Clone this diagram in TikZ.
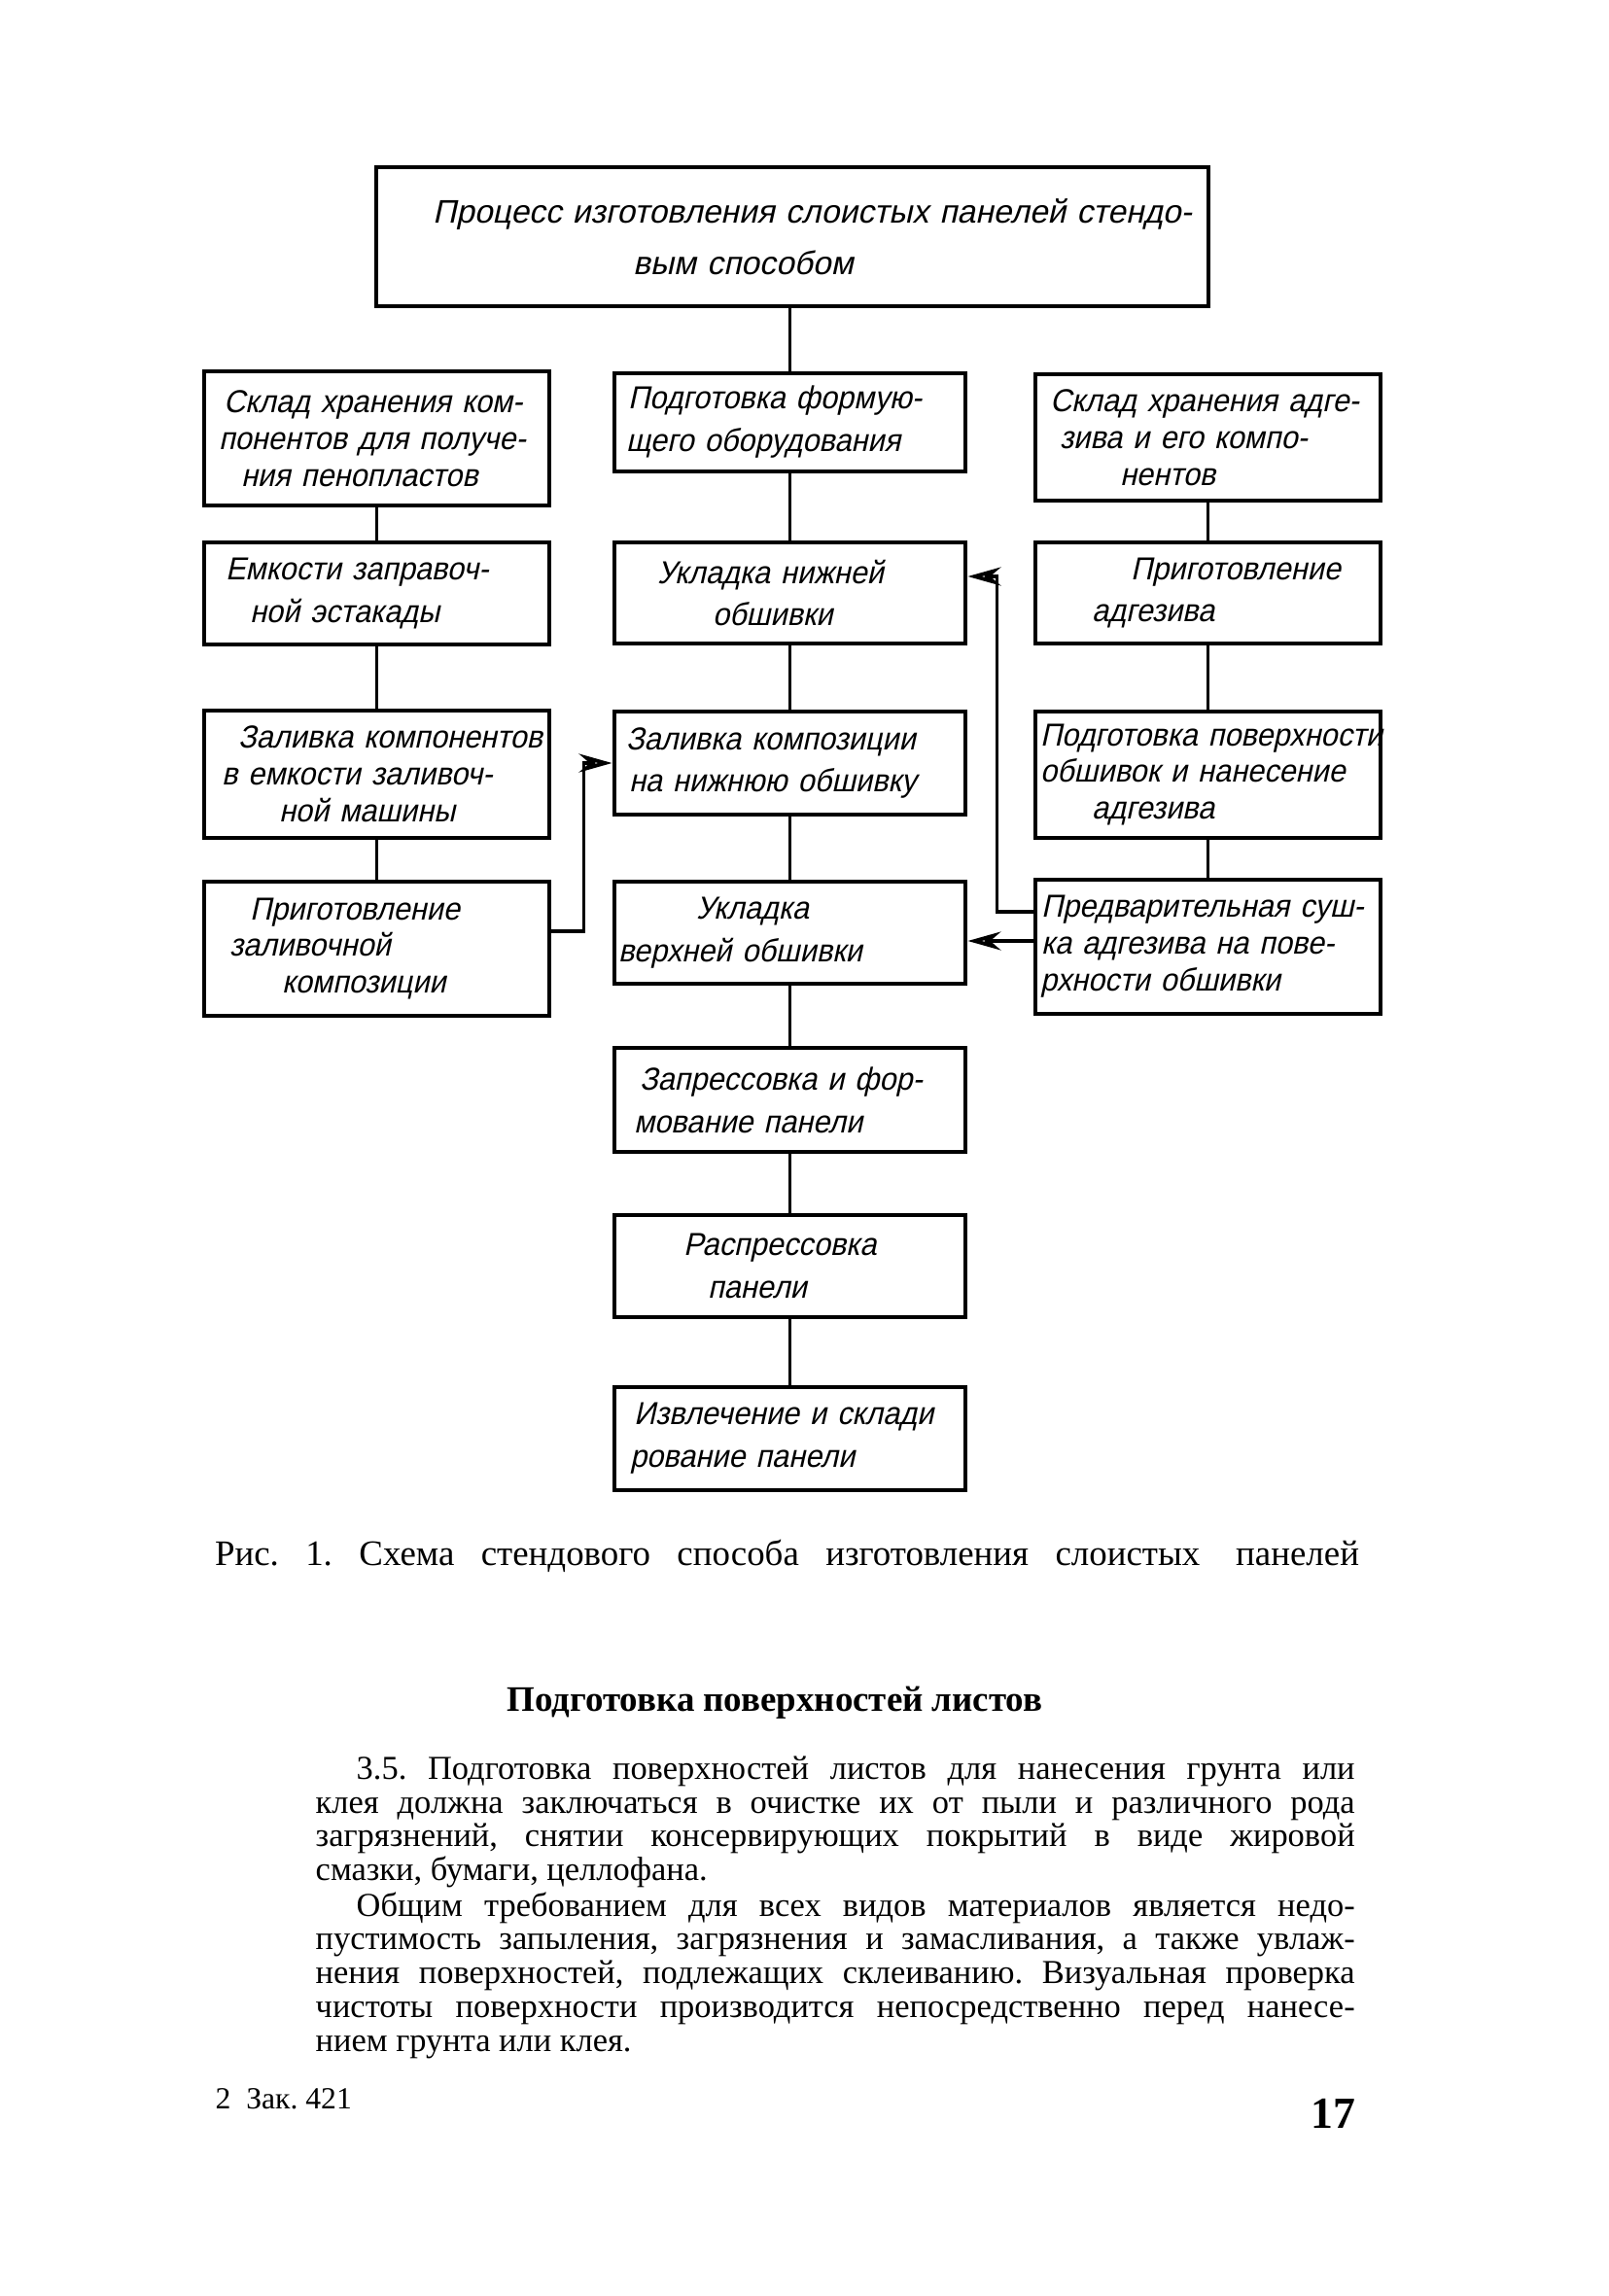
\documentclass[tikz,border=0pt]{standalone}
\usepackage{fontspec}
\setmainfont{Liberation Serif}
\newfontfamily\handfont[FakeSlant=0.22, FakeStretch=0.94]{Liberation Sans}
\newfontfamily\handwide[FakeSlant=0.22]{Liberation Sans}
\usetikzlibrary{arrows.meta, positioning}
\frenchspacing

\begin{document}
\begin{tikzpicture}[
        box/.style={rectangle, draw=black, line width=1.4pt, inner xsep=0.4mm, inner ysep=0pt, align=left, font=\handfont\fontsize{9.3}{12.5}\selectfont},
        three/.style={font=\handfont\fontsize{9.3}{10.8}\selectfont},
        side/.style={box, minimum width=3.55cm, text width=3.47cm},
        mid/.style={box, minimum width=3.61cm, text width=3.53cm},
        link/.style={line width=1.1pt},
        arrow/.style={link, -{Stealth[open, length=3.4mm, width=1.9mm]}},
        txt/.style={inner sep=0pt, font=\fontsize{9.8}{9.9}\selectfont}
    ]
    \fill [white] (0,0) rectangle (16.54,-23.62);
    \useasboundingbox (0,0) rectangle (16.54,-23.62);

    % Головной блок
    \node (top) [box, minimum width=8.56cm, text width=8.48cm, minimum height=1.43cm, font=\handwide\fontsize{9.55}{15}\selectfont] at (8.15,-2.435)
        {\hspace*{0.54cm}\mbox{Процесс изготовления слоистых панелей стендо-}\\ \hspace*{2.60cm}вым способом};

    % Левая колонка
    \node (l1) [side, three, minimum height=1.38cm] at (3.875,-4.51)  {\hspace*{0.16cm}Склад хранения ком-\\ \hspace*{0.11cm}\mbox{понентов для получе-}\\ \hspace*{0.34cm}ния пенопластов};
    \node (l2) [side, minimum height=1.05cm] at (3.875,-6.105)        {\hspace*{0.18cm}Емкости заправоч-\\ \hspace*{0.43cm}ной эстакады};
    \node (l3) [side, three, minimum height=1.31cm] at (3.875,-7.965) {\hspace*{0.31cm}\mbox{Заливка компонентов}\\ \hspace*{0.14cm}в емкости заливоч-\\ \hspace*{0.73cm}ной машины};
    \node (l4) [side, three, minimum height=1.38cm] at (3.875,-9.76)  {\hspace*{0.43cm}Приготовление\\ \hspace*{0.22cm}заливочной\\ \hspace*{0.76cm}композиции};

    % Средняя колонка
    \node (m1) [mid, minimum height=1.01cm] at (8.125,-4.345)  {\hspace*{0.10cm}Подготовка формую-\\ \hspace*{0.08cm}щего оборудования};
    \node (m2) [mid, minimum height=1.04cm] at (8.125,-6.10)   {\hspace*{0.40cm}Укладка нижней\\ \hspace*{0.97cm}обшивки};
    \node (m3) [mid, minimum height=1.06cm] at (8.125,-7.85)   {\hspace*{0.08cm}Заливка композиции\\ \hspace*{0.11cm}на нижнюю обшивку};
    \node (m4) [mid, minimum height=1.05cm] at (8.125,-9.595)  {\hspace*{0.80cm}Укладка\\ верхней обшивки};
    \node (m5) [mid, minimum height=1.07cm] at (8.125,-11.315) {\hspace*{0.22cm}Запрессовка и фор-\\ \hspace*{0.16cm}мование панели};
    \node (m6) [mid, minimum height=1.05cm] at (8.125,-13.025) {\hspace*{0.67cm}Распрессовка\\ \hspace*{0.92cm}панели};
    \node (m7) [mid, minimum height=1.06cm] at (8.125,-14.80)  {\hspace*{0.16cm}Извлечение и склади\\ \hspace*{0.12cm}рование панели};

    % Правая колонка
    \node (r1) [side, three, minimum height=1.30cm] at (12.425,-4.50) {\hspace*{0.11cm}\mbox{Склад хранения адге-}\\ \hspace*{0.21cm}зива и его компо-\\ \hspace*{0.83cm}нентов};
    \node (r2) [side, minimum height=1.04cm] at (12.425,-6.10)        {\hspace*{0.94cm}Приготовление\\ \hspace*{0.54cm}адгезива};
    \node (r3) [side, three, minimum height=1.30cm] at (12.425,-7.97) {\hspace*{0.01cm}\mbox{Подготовка поверхности}\\ \hspace*{0.01cm}обшивок и нанесение\\ \hspace*{0.54cm}адгезива};
    \node (r4) [side, three, minimum height=1.38cm] at (12.425,-9.74) {\hspace*{0.02cm}\mbox{Предварительная суш-}\\ \hspace*{0.02cm}ка адгезива на пове-\\ \hspace*{0.01cm}рхности обшивки};

    % Связи
    \draw [link] (m1.north |- top.south) -- (m1.north);
    \foreach \a/\b in {l1/l2, l2/l3, l3/l4, m1/m2, m2/m3, m3/m4, m4/m5, m5/m6, m6/m7, r1/r2, r2/r3, r3/r4}
        \draw [link] (\a) -- (\b);

    \draw [arrow] ([yshift=1.8mm]l4.east) -- ++(0.33,0) |- (m3.west);
    \draw [arrow] ([yshift=3.6mm]r4.west) -- ++(-0.37,0) |- ([yshift=1.7mm]m2.east);
    \draw [arrow] ([yshift=0.6mm]r4.west) -- ([yshift=0.6mm]r4.west -| m4.east);

    % Подпись и текст страницы
    \node (cap) [inner sep=0pt, font=\fontsize{10.5}{12}\selectfont] at (8.095,-16.01)
        {\makebox[11.77cm][s]{Рис. 1. Схема стендового способа изготовления слоистых\quad панелей}};
    \node (head) [inner sep=0pt, font=\bfseries\fontsize{10.5}{12}\selectfont] at (7.97,-17.52) {Подготовка поверхностей листов};

    \node (para1) [txt, anchor=north west, text width=10.69cm, align=justify] at (3.24,-18.06)
        {\hspace*{0.42cm}3.5. Подготовка поверхностей листов для нанесения грунта или\linebreak
         клея должна заключаться в очистке их от пыли и различного рода\linebreak
         загрязнений, снятии консервирующих покрытий в виде жировой\linebreak
         смазки, бумаги, целлофана.};
    \node (para2) [txt, below=0.03cm of para1, text width=10.69cm, align=justify]
        {\hspace*{0.42cm}Общим требованием для всех видов материалов является недо-\linebreak
         пустимость запыления, загрязнения и замасливания, а также увлаж-\linebreak
         нения поверхностей, подлежащих склеиванию. Визуальная проверка\linebreak
         чистоты поверхности производится непосредственно перед нанесе-\linebreak
         нием грунта или клея.};

    \node (order) [inner sep=0pt, anchor=west, font=\fontsize{9}{10}\selectfont] at (2.21,-21.59) {2\enspace Зак. 421};
    \node (page) [inner sep=0pt, font=\bfseries\fontsize{13}{14}\selectfont] at (13.71,-21.74) {17};

\end{tikzpicture}
\end{document}
